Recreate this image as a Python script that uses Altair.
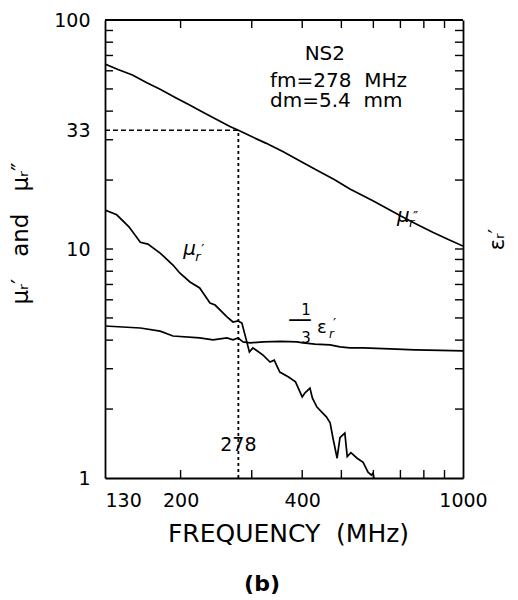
import altair as alt
import pandas as pd

# ---------------- data ----------------
# mu_r'' (upper curve)
mu2_f = [130, 140, 152, 165, 178, 195, 210, 223, 245, 265, 278, 297, 325, 359, 395, 435, 480, 525, 600, 698, 770, 844, 920, 1000]
mu2_v = [64.2, 60.8, 57.5, 53.2, 49.8, 45.6, 42.6, 40.3, 36.9, 34.3, 33.0, 31.2, 29.0, 26.6, 24.2, 22.1, 20.1, 18.3, 16.2, 14.0, 12.8, 11.8, 11.0, 10.3]

# mu_r' (lower jagged curve)
mu1_f = [130, 139, 149, 159, 166, 178, 191.5, 199, 211, 223, 236.5, 243.5, 260.5, 269.6, 277.4, 283.6, 291.7, 296,
         302, 320, 333, 341, 352, 370, 385, 400, 406, 418, 424, 435, 459, 469, 476, 488, 496, 510, 517, 528, 547,
         566, 582, 593, 599, 602]
mu1_v = [14.8, 14.1, 12.5, 10.7, 10.5, 9.6, 8.51, 7.86, 7.18, 6.76, 5.81, 5.69, 5.05, 4.80, 4.85, 4.75, 3.93, 3.55,
         3.70, 3.44, 3.21, 3.27, 2.90, 2.76, 2.63, 2.26, 2.35, 2.47, 2.23, 2.04, 1.85, 1.74, 1.51, 1.22, 1.50, 1.57,
         1.24, 1.29, 1.22, 1.17, 1.06, 1.03, 1.05, 1.00]

# (1/3) eps_r'
eps_f = [130, 159, 178, 191.5, 223, 240.6, 260.5, 269.6, 277.4, 285.5, 297, 320, 355, 388, 402, 430, 469, 496, 525, 566, 660, 760, 880, 1000]
eps_v = [4.61, 4.52, 4.38, 4.17, 4.09, 4.01, 4.09, 4.01, 4.09, 3.93, 3.89, 3.93, 3.95, 3.93, 3.89, 3.84, 3.81, 3.74, 3.70, 3.70, 3.66, 3.63, 3.61, 3.59]

y_major = [1, 10, 33, 100]
x_major = [130, 200, 400, 1000]
y_minor = [2, 3, 4, 5, 6, 7, 8, 9, 10, 20, 30, 40, 50, 60, 70, 80, 90]
x_minor = [200, 300, 400, 500, 600, 700, 800, 900]

fm_value = 278          # MHz
mu2_at_fm = 33
x_start, x_end = 130, 1000
y_floor = 1

# annotation anchors (frequency, value)
ns2_at = (455, 67.0)
fm_at = (333, 51.0)
dm_at = (333, 41.7)
mu2_lbl_at = (687, 13.1)
mu1_lbl_at = (203, 9.42)
eps_lbl_at = (395, 4.90)
fm_lbl_v = 1.31

# ---------------- chart ----------------
W, H = 358, 458
FONT = "DejaVu Sans"
TL = 8
NB = "\u00a0"
FRAME_W = 1.8

xs = alt.Scale(type="log", domain=[x_start, x_end], nice=False)
ys = alt.Scale(type="log", domain=[1, 100], nice=False)

x_axis = alt.Axis(
    orient="bottom", values=x_major, format="d", grid=False, ticks=False,
    domain=True, domainColor="black", domainWidth=FRAME_W,
    labelFont=FONT, labelFontSize=19, labelColor="black", labelPadding=13,
    labelFlush=False, labelOverlap=False,
    labelAlign={"condition": {"test": "datum.value == 130", "value": "left"}, "value": "center"},
    title="FREQUENCY" + NB * 2 + "(MHz)", titleFont=FONT, titleFontSize=25, titleFontWeight="normal",
    titleColor="black", titleX=183, titleY=63, titleAlign="center", titleBaseline="alphabetic",
)

y_axis = alt.Axis(
    orient="left", values=y_major, format="d", grid=False, ticks=False,
    domain=True, domainColor="black", domainWidth=FRAME_W,
    labelFont=FONT, labelFontSize=19, labelColor="black", labelPadding=15, labelOverlap=False,
    title="\u03bc\u1d63\u2032" + NB * 3 + "and" + NB * 3 + "\u03bc\u1d63\u2033", titleFont=FONT, titleFontSize=23,
    titleFontWeight="normal", titleColor="black", titleAngle=270, titleX=-78, titleY=213,
    titleAlign="center", titleBaseline="alphabetic",
)

y_axis_r = alt.Axis(
    orient="right", values=y_major, labels=False, grid=False, ticks=False,
    domain=True, domainColor="black", domainWidth=FRAME_W,
    title="\u03b5\u1d63\u2032", titleFont=FONT, titleFontSize=21, titleFontWeight="normal",
    titleColor="black", titleAngle=270, titleX=40, titleY=219, titleAlign="center",
    titleBaseline="alphabetic",
)


# every layer of the main group carries the same (identical) axis spec so they merge into one
def X(field="f"):
    return alt.X(field, type="quantitative", scale=xs, axis=x_axis)


def Y(field="v", axis=y_axis):
    return alt.Y(field, type="quantitative", scale=ys, axis=axis)


mu2_df = pd.DataFrame({"f": mu2_f, "v": mu2_v})
mu1_df = pd.DataFrame({"f": mu1_f, "v": mu1_v})
eps_df = pd.DataFrame({"f": eps_f, "v": eps_v})

line_style = dict(color="black", strokeWidth=1.7, clip=True)

mu2_line = alt.Chart(mu2_df).mark_line(**line_style).encode(x=X(), y=Y())
mu1_line = alt.Chart(mu1_df).mark_line(**line_style).encode(x=X(), y=Y())
eps_line = alt.Chart(eps_df).mark_line(**line_style).encode(x=X(), y=Y())

hdash = alt.Chart(pd.DataFrame({"f": [x_start], "f2": [fm_value], "v": [mu2_at_fm]})).mark_rule(
    color="black", strokeWidth=1.6, strokeDash=[5, 3]
).encode(x=X(), x2=alt.X2("f2"), y=Y())

vdash = alt.Chart(pd.DataFrame({"f": [fm_value], "v": [y_floor], "v2": [mu2_at_fm]})).mark_rule(
    color="black", strokeWidth=1.8, strokeDash=[3, 3]
).encode(x=X(), y=Y(), y2=alt.Y2("v2"))

# top edge of the frame (spans the x domain)
top_edge = alt.Chart(pd.DataFrame({"f": [x_start], "f2": [x_end]})).mark_rule(
    color="black", strokeWidth=FRAME_W
).encode(x=X(), x2=alt.X2("f2"), y=alt.value(0))

yt_df = pd.DataFrame({"v": y_minor})
xt_df = pd.DataFrame({"f": x_minor})
tick_style = dict(color="black", strokeWidth=1.4)

yt_left = alt.Chart(yt_df).mark_rule(**tick_style).encode(y=Y(), x=alt.value(0), x2=alt.value(TL))
yt_right = alt.Chart(yt_df).mark_rule(**tick_style).encode(y=Y(axis=y_axis_r), x=alt.value(W - TL), x2=alt.value(W))
xt_bottom = alt.Chart(xt_df).mark_rule(**tick_style).encode(x=X(), y=alt.value(H - TL), y2=alt.value(H))
xt_top = alt.Chart(xt_df).mark_rule(**tick_style).encode(x=X(), y=alt.value(0), y2=alt.value(TL))


def pt(p):
    return pd.DataFrame({"f": [p[0]], "v": [p[1]]})


def txt(p, text, size, dx=0, dy=0, align="left", baseline="alphabetic", style="normal", weight="normal"):
    return alt.Chart(pt(p)).mark_text(
        text=text, font=FONT, fontSize=size, dx=dx, dy=dy, align=align, baseline=baseline,
        fontStyle=style, fontWeight=weight, color="black"
    ).encode(x=X(), y=Y())


texts = [
    txt(ns2_at, "NS2", 20, align="center"),
    txt(fm_at, "fm=278" + NB * 2 + "MHz", 20),
    txt(dm_at, "dm=5.4" + NB * 2 + "mm", 20),
    # mu_r''
    txt(mu2_lbl_at, "\u03bc", 20, style="italic"),
    txt(mu2_lbl_at, "r", 13, dx=12, dy=5, style="italic"),
    txt(mu2_lbl_at, "\u2033", 14, dx=16, dy=-1),
    # mu_r'
    txt(mu1_lbl_at, "\u03bc", 20, style="italic"),
    txt(mu1_lbl_at, "r", 13, dx=12, dy=6, style="italic"),
    txt(mu1_lbl_at, "\u2032", 14, dx=18, dy=-1),
    # (1/3) eps_r'
    txt(eps_lbl_at, "1", 15, dx=6, dy=-10, align="center", baseline="middle"),
    txt(eps_lbl_at, "\u2014", 24, dx=0, dy=7, align="center"),
    txt(eps_lbl_at, "3", 15, dx=6, dy=18, align="center", baseline="middle"),
    txt(eps_lbl_at, "\u03b5", 18, dx=17, dy=13),
    txt(eps_lbl_at, "r", 12, dx=29, dy=18, style="italic"),
    txt(eps_lbl_at, "\u2032", 14, dx=33, dy=8),
    # 278 marker label
    txt((fm_value, fm_lbl_v), "278", 19, align="center"),
]

main = alt.layer(
    mu2_line, mu1_line, eps_line, hdash, vdash,
    yt_left, xt_bottom, xt_top, top_edge, *texts
)

chart = alt.layer(main, yt_right).resolve_scale(y="independent").properties(
    width=W, height=H,
    title=alt.Title("(b)", orient="bottom", font=FONT, fontSize=22, fontWeight="bold",
                    color="black", offset=28, dx=-22, anchor="middle"),
    padding={"left": 105, "top": 20, "right": 55, "bottom": 122},
    autosize=alt.AutoSizeParams(type="none"),
).configure_view(
    stroke="black", strokeWidth=FRAME_W, fill="white"
).configure(background="white")

chart.save("out.html", embed_options={"renderer": "svg", "actions": False})
